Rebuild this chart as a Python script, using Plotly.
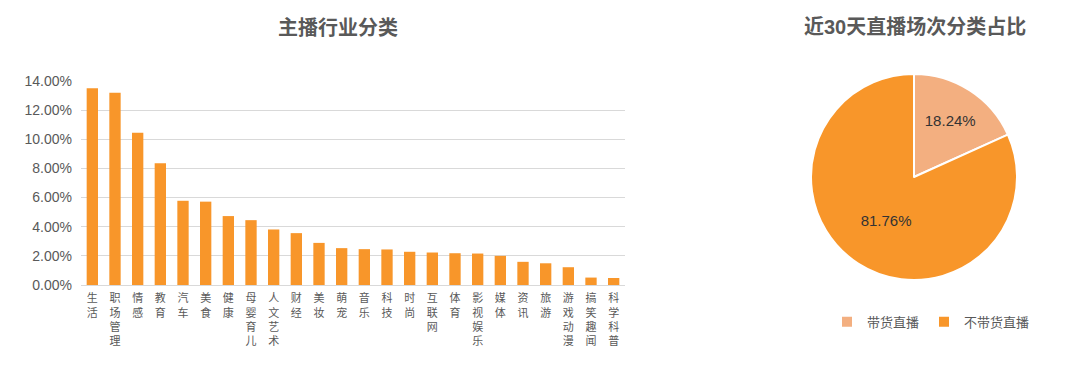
import plotly.graph_objects as go

categories = ["生活", "职场管理", "情感", "教育", "汽车", "美食", "健康", "母婴育儿", "人文艺术", "财经",
              "美妆", "萌宠", "音乐", "科技", "时尚", "互联网", "体育", "影视娱乐", "媒体", "资讯",
              "旅游", "游戏动漫", "搞笑趣闻", "科学科普"]
shares = [13.5, 13.2, 10.45, 8.35, 5.78, 5.72, 4.73, 4.45, 3.81, 3.56,
          2.89, 2.53, 2.46, 2.44, 2.28, 2.23, 2.18, 2.16, 2.0, 1.59,
          1.49, 1.22, 0.51, 0.48]
y_ticks = [0, 2, 4, 6, 8, 10, 12, 14]
y_tick_labels = ["%.2f%%" % v for v in y_ticks]

pie_labels = ["带货直播", "不带货直播"]
pie_values = [18.24, 81.76]

bar_title = "主播行业分类"
pie_title = "近30天直播场次分类占比"

FONT = "Liberation Sans, Arial, Noto Sans CJK SC, sans-serif"
CJK = "Noto Sans CJK SC, sans-serif"
TXT = "#595959"
ORANGE = "#F8962A"
LIGHT = "#F3AF80"

# the page body has an 8px default margin; convert page pixel positions to paper coords
W, H, OFF = 1072, 360, 8


def px(x):
    return (x - OFF) / W


def py(y):
    return 1 - (y - OFF) / H


fig = go.Figure()
fig.add_trace(go.Bar(
    x=categories, y=shares, marker_color=ORANGE, marker_line_width=0,
    width=0.5, showlegend=False, hoverinfo="x+y",
))
fig.add_trace(go.Pie(
    labels=pie_labels, values=pie_values, sort=False, direction="clockwise", rotation=0,
    marker=dict(colors=[LIGHT, ORANGE], line=dict(color="white", width=2)),
    texttemplate="%{value:.2f}%", textposition="inside", insidetextorientation="horizontal",
    textfont=dict(size=15, color="#333333", family=FONT),
    domain=dict(x=[px(914 - 103), px(914 + 103)], y=[py(280), py(74)]),
    showlegend=True,
))

fig.update_layout(
    width=W, height=H,
    margin=dict(l=0, r=0, t=0, b=0, autoexpand=False),
    paper_bgcolor="white", plot_bgcolor="white",
    font=dict(family=FONT, color=TXT),
    bargap=0.5,
    xaxis=dict(
        domain=[px(81), px(625)], automargin=False,
        tickmode="array", tickvals=categories,
        ticktext=["<br>".join(list(c)) for c in categories],
        tickangle=0, tickfont=dict(size=11, color=TXT, family=CJK),
        ticklabelstandoff=3,
        showline=True, linecolor="#D9D9D9", linewidth=1,
        ticks="", showgrid=False,
    ),
    yaxis=dict(
        domain=[py(285), py(81)], automargin=False,
        range=[0, 14], tickvals=y_ticks, ticktext=y_tick_labels,
        tickfont=dict(size=14, color=TXT), ticklabelstandoff=8,
        showgrid=True, gridcolor="#D9D9D9", gridwidth=1,
        zeroline=False, showline=False, ticks="",
    ),
    legend=dict(
        orientation="h", x=px(827), xanchor="left", y=py(321.7), yanchor="middle",
        font=dict(size=13, color=TXT), itemwidth=30, traceorder="normal",
    ),
    annotations=[
        dict(text="<b>" + bar_title + "</b>", x=px(338), y=py(28), xref="paper", yref="paper",
             showarrow=False, xanchor="center", yanchor="middle",
             font=dict(size=20, color=TXT)),
        dict(text="<b>" + pie_title + "</b>", x=px(915), y=py(27), xref="paper", yref="paper",
             showarrow=False, xanchor="center", yanchor="middle",
             font=dict(size=20, color=TXT)),
    ],
)

fig.write_html("out.html")
